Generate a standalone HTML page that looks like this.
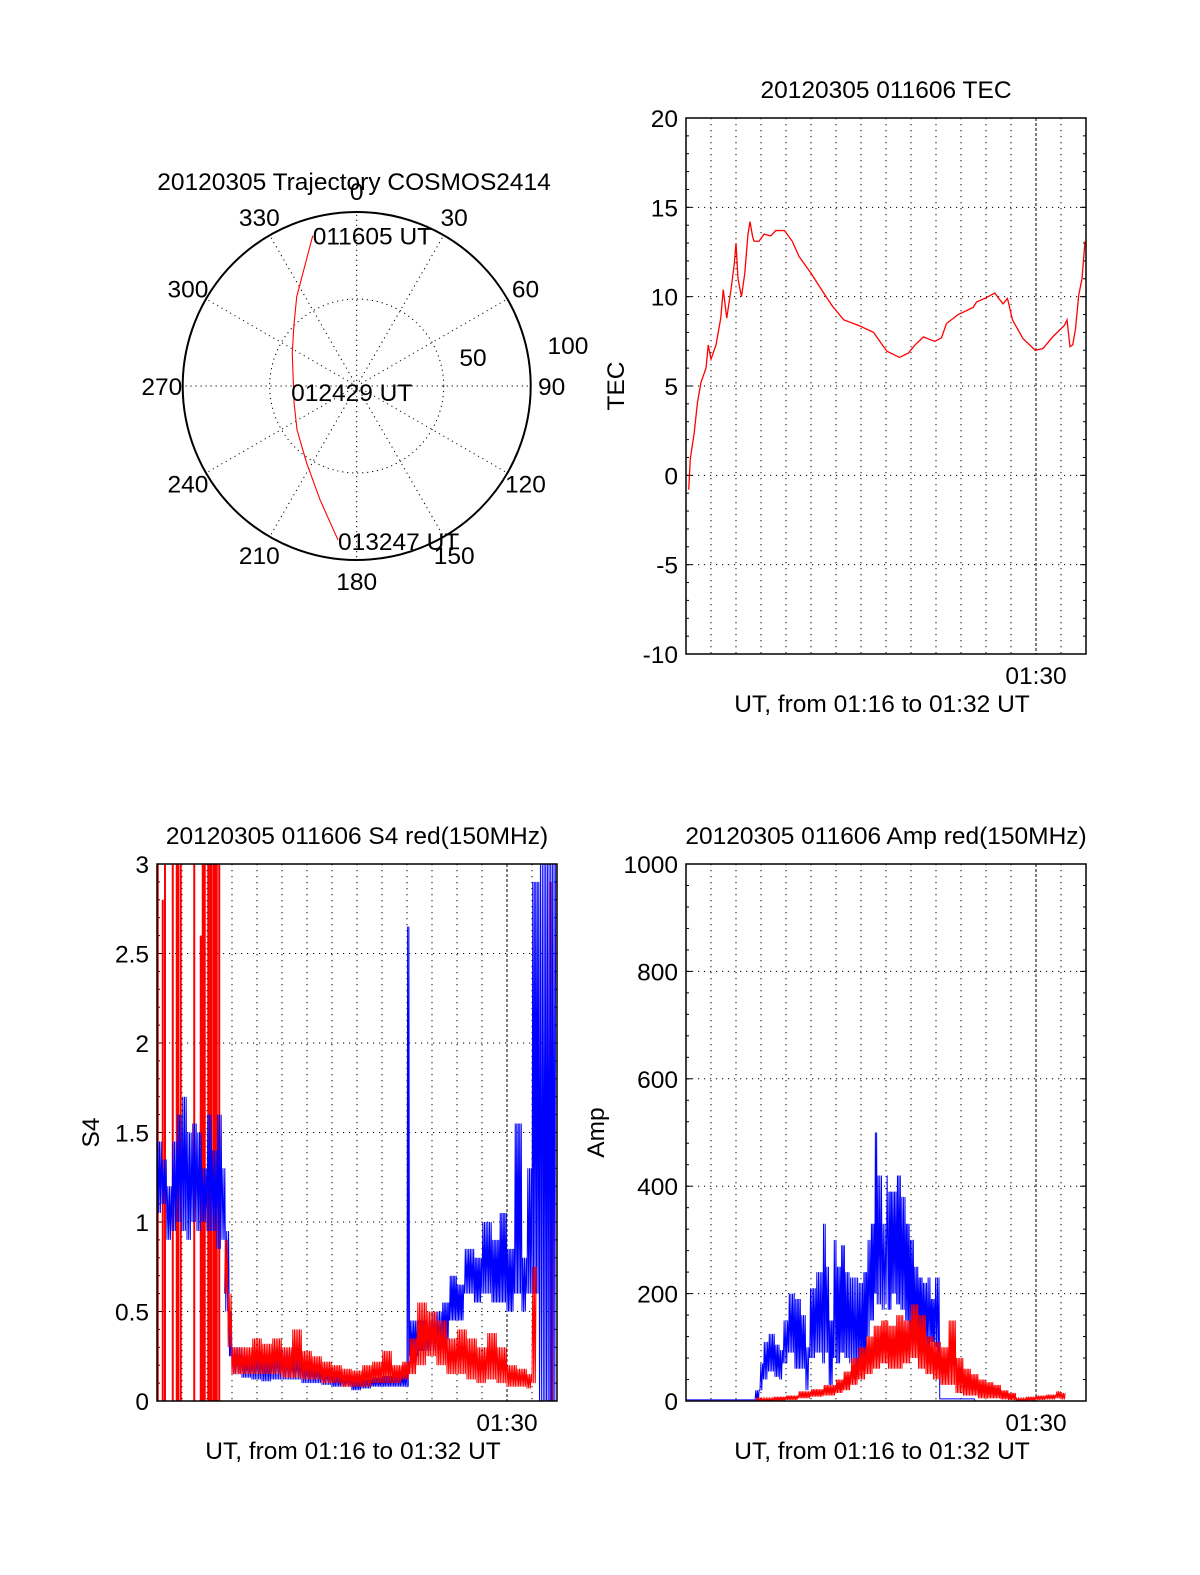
<!DOCTYPE html>
<html><head><meta charset="utf-8"><title>COSMOS2414 20120305</title>
<style>
html,body{margin:0;padding:0;background:#fff;}
svg{display:block;font-family:"Liberation Sans",sans-serif;}
text{fill:#000;}
</style></head>
<body>
<svg id="fig" width="1200" height="1575" viewBox="0 0 1200 1575" xmlns="http://www.w3.org/2000/svg">
<rect width="1200" height="1575" fill="#fff"/>
<g id="polar"></g>
<g id="tec"></g>
<g id="s4"></g>
<g id="amp"></g>
</svg>
<script>
// ---------- data ----------
const polarAzLabels = [0,30,60,90,120,150,180,210,240,270,300,330];
const trajAz = [343.7,326.1,314.2,297.1,254.8,233.6,213,197.8,186.9];
const trajR  = [90.0,61.8,50.3,41.6,37.3,42.6,52.8,68.8,89.2];
const trajLabels = ["011605 UT","012429 UT","013247 UT"];

const tecT = [0.11,0.17,0.33,0.46,0.6,0.8,0.89,1.0,1.2,1.39,1.49,1.63,1.79,1.93,2.0,2.08,2.22,2.35,2.48,2.56,2.66,2.72,2.92,3.12,3.39,3.59,3.94,4.25,4.52,4.98,5.51,5.84,6.31,6.97,7.5,8.03,8.54,8.9,9.16,9.5,9.76,9.96,10.22,10.42,10.89,11.49,11.62,12.02,12.35,12.68,12.86,13.06,13.48,13.97,14.28,14.67,15.14,15.24,15.36,15.47,15.58,15.71,15.84,15.96];
const tecV = [-0.8,0.9,2.4,4.1,5.2,6.0,7.3,6.5,7.3,8.8,10.4,8.8,10.3,11.8,13.0,11.0,10.0,11.3,13.5,14.2,13.4,13.1,13.1,13.5,13.4,13.7,13.7,13.1,12.25,11.35,10.2,9.5,8.7,8.35,8.0,6.95,6.6,6.85,7.3,7.75,7.6,7.5,7.7,8.5,9.0,9.4,9.7,9.95,10.2,9.6,9.9,8.7,7.65,7.0,7.1,7.75,8.4,8.7,7.2,7.3,8.2,10.1,11.0,13.1];
const tecTicks = [-10,-5,0,5,10,15,20];

const s4BlueT    = [0.0,0.2,0.4,0.6,0.8,1.0,1.2,1.4,1.6,1.8,2.0,2.2,2.4,2.6,2.75,2.9,3.0,3.4,3.8,4.2,4.6,5.0,5.4,5.8,6.2,6.6,7.0,7.4,7.8,8.2,8.6,9.0,9.4,10.0,10.1,10.5,11.0,11.4,11.7,12.0,12.3,12.7,13.0,13.4,13.7,14.0,14.3,14.6,14.8,15.0,15.3,15.45,15.98];
const s4BlueLow  = [1.05,1.1,0.9,0.95,1.0,0.95,0.9,1.0,0.95,1.0,0.95,0.95,0.85,0.9,0.5,0.25,0.15,0.13,0.12,0.11,0.12,0.12,0.12,0.1,0.1,0.09,0.08,0.08,0.06,0.07,0.08,0.08,0.08,0.08,0.25,0.28,0.28,0.3,0.45,0.45,0.6,0.55,0.6,0.55,0.55,0.5,0.6,0.5,0.6,0.6,0,0,0];
const s4BlueHigh = [1.45,1.35,1.2,1.45,1.6,1.7,1.5,1.55,1.5,1.3,1.6,1.4,1.6,1.3,0.95,0.5,0.3,0.25,0.28,0.25,0.3,0.28,0.26,0.22,0.2,0.18,0.15,0.14,0.12,0.12,0.13,0.14,0.15,2.65,0.45,0.45,0.5,0.55,0.7,0.65,0.85,0.8,1.0,0.9,1.05,0.85,1.55,0.8,1.3,2.9,3.0,3.0,3.0];
const s4RedT    = [2.7,2.85,3.0,3.4,3.8,4.2,4.6,5.0,5.4,5.8,6.2,6.6,7.0,7.4,7.8,8.2,8.6,9.0,9.4,9.8,10.1,10.4,10.8,11.2,11.6,12.0,12.4,12.8,13.2,13.6,14.0,14.4,14.8,15.0,15.2];
const s4RedLow  = [0.6,0.3,0.15,0.15,0.15,0.15,0.15,0.13,0.13,0.12,0.12,0.1,0.1,0.08,0.08,0.08,0.1,0.1,0.1,0.12,0.15,0.2,0.25,0.2,0.15,0.15,0.12,0.1,0.12,0.1,0.08,0.08,0.07,0.1,0.6];
const s4RedHigh = [0.9,0.6,0.3,0.3,0.35,0.32,0.35,0.3,0.4,0.28,0.25,0.22,0.2,0.18,0.17,0.2,0.22,0.28,0.2,0.22,0.35,0.55,0.5,0.45,0.35,0.4,0.35,0.3,0.38,0.3,0.2,0.18,0.15,0.75,0.75];
const s4RedSpikeT = [0.03,0.23,0.32,0.63,0.79,0.85,0.95,1.49,1.75,1.83,1.91,2.05,2.12,2.19,2.28,2.33,2.39,2.49,15.75,15.8];
const s4RedSpikeV = [3,2.8,3,3,3,3,3,3,2.6,3,3,3,3,3,3,3,3,3,2.9,2.0];
const s4Ticks = [0,0.5,1,1.5,2,2.5,3];
const s4TickLabels = ["0","0.5","1","1.5","2","2.5","3"];

const ampBlueT    = [0,2.76,2.96,3.1,3.3,3.56,3.75,3.89,4.1,4.36,4.6,4.8,4.95,5.2,5.47,5.6,5.73,5.9,6.03,6.2,6.36,6.55,6.76,6.9,7.09,7.25,7.39,7.55,7.65,7.85,8.0,8.09,8.25,8.43,8.6,8.79,8.95,9.12,9.3,9.47,9.65,9.79,9.95,10.09,10.15,11.56,15.5];
const ampBlueLow  = [2,0,20,40,55,45,40,70,90,60,60,20,80,90,70,90,30,80,70,90,80,70,40,60,60,120,150,200,180,170,180,170,200,180,170,150,130,100,120,100,90,110,100,80,4,0,0];
const ampBlueHigh = [2,20,70,110,125,105,95,150,200,190,160,100,210,240,330,250,150,300,250,290,240,230,230,220,240,300,330,500,420,330,420,390,390,420,380,330,300,250,230,220,230,190,230,230,4,0,0];
const ampRedT    = [0,2.8,3.5,4.0,4.5,5.0,5.5,6.0,6.3,6.6,6.9,7.2,7.5,7.8,8.1,8.4,8.7,9.0,9.3,9.6,9.9,10.2,10.5,10.8,11.1,11.4,11.7,12.0,12.3,12.6,12.9,13.2,13.6,14.0,14.4,14.8,15.0,15.2];
const ampRedLow  = [0,0,0,2,5,8,10,15,20,30,40,50,60,70,60,60,70,80,60,50,40,30,30,15,10,10,5,5,5,3,2,0,0,2,3,5,3,0];
const ampRedHigh = [0,5,8,10,18,22,30,40,55,80,100,120,140,150,140,160,150,180,160,120,110,100,150,80,60,50,40,35,30,20,15,5,8,10,12,18,15,5];
const ampTicks = [0,200,400,600,800,1000];

const minutes = [1,2,3,4,5,6,7,8,9,10,11,12,13,14,15];
const xTickMinute = 14, xTickLabel = "01:30";
const NS = "http://www.w3.org/2000/svg";
const FS = 24.5;

function mk(parent, tag, attrs){
  const e = document.createElementNS(NS, tag);
  for (const k in attrs) e.setAttribute(k, attrs[k]);
  parent.appendChild(e);
  return e;
}
function txt(parent, x, y, s, anchor, size){
  const e = mk(parent, 'text', {x:x, y:y, 'text-anchor':anchor||'middle', 'font-size':size||FS});
  e.textContent = s;
  return e;
}

function panel(g, c){
  const X = t => c.x0 + (t/16)*(c.x1-c.x0);
  const Y = v => c.y1 - (v-c.ymin)/(c.ymax-c.ymin)*(c.y1-c.y0);
  minutes.forEach(m=>{
    const l = mk(g,'line',{x1:X(m),x2:X(m),y1:c.y0,y2:c.y1,stroke:'#000','stroke-width':1,'stroke-dasharray': m===xTickMinute?'3,2':'1.2,4.8'});
    
    
  });
  c.ticks.forEach((v,i)=>{
    if (v>c.ymin && v<c.ymax){
      const l = mk(g,'line',{x1:c.x0,x2:c.x1,y1:Y(v),y2:Y(v),stroke:'#000','stroke-width':1,'stroke-dasharray':'1.2,4.8'});
      
      
    }
    const t = txt(g, c.x0-8, Y(v)+9, c.labels? c.labels[i] : String(v), 'end', FS);
    
    
    mk(g,'line',{x1:c.x0,x2:c.x0+6,y1:Y(v),y2:Y(v),stroke:'#000'});
    mk(g,'line',{x1:c.x1,x2:c.x1-6,y1:Y(v),y2:Y(v),stroke:'#000'});
  });
  for (let v=c.ymin; v<=c.ymax+1e-9; v+=c.minor){
    mk(g,'line',{x1:c.x0,x2:c.x0+3,y1:Y(v),y2:Y(v),stroke:'#000'});
    mk(g,'line',{x1:c.x1,x2:c.x1-3,y1:Y(v),y2:Y(v),stroke:'#000'});
  }
  const xl = txt(g, X(xTickMinute), c.y1+30, xTickLabel, 'middle', FS);
  
  
  const xt = txt(g, (c.x0+c.x1)/2 - 4, c.y1+58, 'UT, from 01:16 to 01:32 UT', 'middle', FS);
  
  
  const tt = txt(g, (c.x0+c.x1)/2, c.y0-20, c.title, 'middle', FS);
  
  
  if (c.ylabel){
    const yl = mk(g,'text',{x:0,y:0,'text-anchor':'middle','font-size':FS,transform:`translate(${c.ylx},${(c.y0+c.y1)/2}) rotate(-90)`});
    yl.textContent = c.ylabel;
    
    
  }
  const clipId = 'clip'+c.id;
  const cp = mk(mk(g,'defs',{}),'clipPath',{id:clipId});
  mk(cp,'rect',{x:c.x0,y:c.y0,width:c.x1-c.x0,height:c.y1-c.y0});
  const data = mk(g,'g',{'clip-path':`url(#${clipId})`});
  
  
  const fr = mk(g,'rect',{x:c.x0,y:c.y0,width:c.x1-c.x0,height:c.y1-c.y0,fill:'none',stroke:'#000','stroke-width':1.5});
  
  
  return {X,Y,data};
}

function band(p, g, T, lo, hi, color, name){
  let d = '';
  for (let i=0;i<T.length-1;i++){
    const xa = p.X(T[i]), xb = p.X(T[i+1]);
    const n = Math.max(1, Math.round((xb-xa)/1.6));
    const step = (xb-xa)/n;
    for (let k=0;k<n;k++){
      const x = xa + k*step;
      d += (d?'L':'M') + x.toFixed(2)+','+p.Y(lo[i]).toFixed(2) + 'L' + (x+step/2).toFixed(2)+','+p.Y(hi[i]).toFixed(2);
    }
  }
  const e = mk(g,'path',{d:d,fill:'none',stroke:color,'stroke-width':1});
  
  
}
function spikes(p, g, T, V, color, name){
  let d='';
  T.forEach((t,i)=>{ d += 'M'+p.X(t).toFixed(2)+','+p.Y(0)+'V'+p.Y(V[i]).toFixed(2); });
  const e = mk(g,'path',{d:d,fill:'none',stroke:color,'stroke-width':2});
  
  
}

(function(){
  const g = document.getElementById('tec');
  const p = panel(g,{id:'tec',x0:686,x1:1086,y0:118,y1:654,ymin:-10,ymax:20,ticks:tecTicks,minor:1,title:'20120305 011606 TEC',ylabel:'TEC',ylx:624});
  const d = tecT.map((t,i)=>(i?'L':'M')+p.X(t).toFixed(2)+','+p.Y(tecV[i]).toFixed(2)).join('');
  const e = mk(p.data,'path',{d:d,fill:'none',stroke:'#f00','stroke-width':1.3});
  
  
})();
(function(){
  const g = document.getElementById('s4');
  const p = panel(g,{id:'s4',x0:157,x1:557,y0:864,y1:1401,ymin:0,ymax:3,ticks:s4Ticks,labels:s4TickLabels,minor:0.1,title:'20120305 011606 S4 red(150MHz)',ylabel:'S4',ylx:99});
  spikes(p,p.data,s4RedSpikeT,s4RedSpikeV,'#f00','s4-red-spikes');
  band(p,p.data,s4BlueT,s4BlueLow,s4BlueHigh,'#00f','s4-blue-series');
  band(p,p.data,s4RedT,s4RedLow,s4RedHigh,'#f00','s4-red-series');
})();
(function(){
  const g = document.getElementById('amp');
  const p = panel(g,{id:'amp',x0:686,x1:1086,y0:864,y1:1401,ymin:0,ymax:1000,ticks:ampTicks,minor:40,title:'20120305 011606 Amp red(150MHz)',ylabel:'Amp',ylx:604});
  band(p,p.data,ampBlueT,ampBlueLow,ampBlueHigh,'#00f','amp-blue-series');
  band(p,p.data,ampRedT,ampRedLow,ampRedHigh,'#f00','amp-red-series');
})();
(function(){
  const g = document.getElementById('polar');
  const cx=356.7, cy=386, R=174;
  const P = (az,r)=>[cx + Math.sin(az*Math.PI/180)*r/100*R, cy - Math.cos(az*Math.PI/180)*r/100*R];
  polarAzLabels.forEach(a=>{
    const q = P(a,100);
    const l = mk(g,'line',{x1:cx,y1:cy,x2:q[0],y2:q[1],stroke:'#000','stroke-dasharray':'1.2,3.8'});
    
    
    const lp = P(a,112);
    const t = txt(g, lp[0], lp[1]+9, String(a), 'middle', FS);
    
    
  });
  const ic = mk(g,'circle',{cx:cx,cy:cy,r:R*0.5,fill:'none',stroke:'#000','stroke-dasharray':'1.2,3.8'});
  
  
  const oc = mk(g,'circle',{cx:cx,cy:cy,r:R,fill:'none',stroke:'#000','stroke-width':2});
  
  
  const l50 = txt(g,473,366,'50','middle',FS);
  
  
  const l100 = txt(g,568,354,'100','middle',FS);
  
  
  const d = trajAz.map((a,i)=>{const q=P(a,trajR[i]);return (i?'L':'M')+q[0].toFixed(2)+','+q[1].toFixed(2);}).join('');
  const tr = mk(g,'path',{d:d,fill:'none',stroke:'#f00','stroke-width':1.1});
  
  
  const s = P(trajAz[0],trajR[0]), m = P(trajAz[4],trajR[4]), e = P(trajAz[trajAz.length-1],trajR[trajR.length-1]);
  [[s[0],s[1]+9,trajLabels[0]],[m[0]-3,m[1]-2,trajLabels[1]],[e[0],e[1]+10,trajLabels[2]]].forEach(v=>{
    const t = txt(g,v[0],v[1],v[2],'start',FS);
    
    
  });
  const tt = txt(g,354,190,'20120305 Trajectory COSMOS2414','middle',FS);
  
  
})();
</script>
</body></html>
